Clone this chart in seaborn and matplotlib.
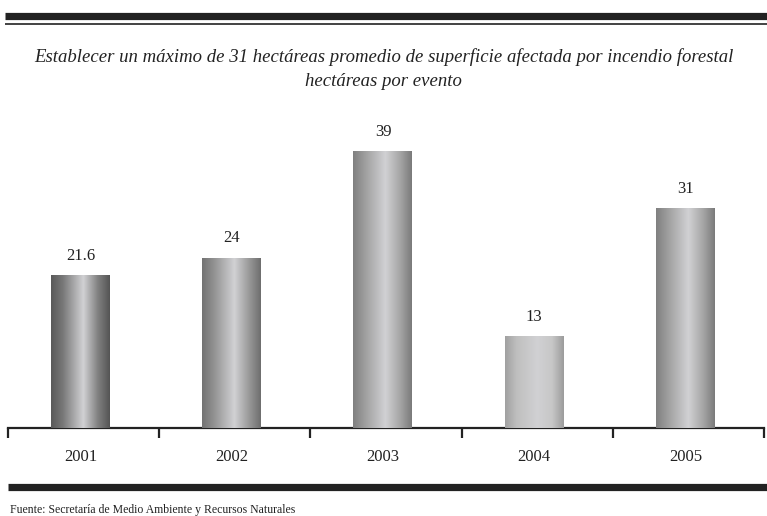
# Deps
import numpy as np
import pandas as pd
import seaborn as sns
import matplotlib
matplotlib.use('Agg')
import matplotlib.pyplot as plt
from matplotlib.colors import LinearSegmentedColormap
from matplotlib.lines import Line2D
from matplotlib.ticker import FixedLocator

# Data
years = ["2001", "2002", "2003", "2004", "2005"]
hectareas = [21.6, 24, 39, 13, 31]
value_labels = ["21.6", "24", "39", "13", "31"]

title = ("Establecer un máximo de 31 hectáreas promedio de superficie afectada por incendio forestal\n"
         "hectáreas por evento")
source = "Fuente: Secretaría de Medio Ambiente y Recursos Naturales"

# style: edge shade of each cylinder (grey level 0-1)
edge_shades = [0.35, 0.45, 0.50, 0.63, 0.50]

df = pd.DataFrame({"year": years, "ha": hectareas})

# Fig
W, H = 767, 516
fig = plt.figure(figsize=(W / 100, H / 100), dpi=100)
sns.set_style("white")
plt.rcParams['font.family'] = ['Liberation Serif', 'DejaVu Serif']

ax = fig.add_axes([8 / W, (H - 428) / H, (764 - 8) / W, (428 - 100) / H])

sns.barplot(data=df, x="year", y="ha", ax=ax, width=0.39, color="#999999",
            edgecolor="none", linewidth=0, saturation=1)

# cylinder shading on each bar
t = np.linspace(0, 1, 256)
for p, e in zip(ax.patches, edge_shades):
    cmap = LinearSegmentedColormap.from_list(
        "cyl", [(0, (e, e, e)), (0.2, (e + 0.12,) * 3), (0.55, (0.82, 0.82, 0.83)),
                (0.8, (e + 0.15,) * 3), (1, (e - 0.02,) * 3)])
    im = ax.imshow(t[np.newaxis, :], extent=[p.get_x(), p.get_x() + p.get_width(), 0, p.get_height()],
                   aspect='auto', cmap=cmap, vmin=0, vmax=1, zorder=3)
    im.set_clip_path(p)

ax.bar_label(ax.containers[0], labels=value_labels, padding=8, fontsize=12, color="#222222")

ax.set_xlim(-0.48, 4.52)
ax.set_ylim(0, 46.2)

# spines / ticks
for s in ['top', 'right', 'left']:
    ax.spines[s].set_visible(False)
ax.spines['bottom'].set_linewidth(1.6)
ax.spines['bottom'].set_color("#222222")
ax.set_yticks([])
ax.set_xlabel("")
ax.set_ylabel("")
ax.set_xticks(range(len(years)))
ax.set_xticklabels(years)
ax.xaxis.set_minor_locator(FixedLocator(np.arange(-0.48, len(years), 1.0)))
ax.tick_params(axis='x', which='major', length=0, pad=15, labelsize=12, labelcolor="#222222")
ax.tick_params(axis='x', which='minor', bottom=True, length=7, width=1.6, color="#222222",
               direction='out')

# title
fig.text(0.5, (H - 69) / H, title, ha='center', va='center', fontsize=13.5,
         style='italic', color="#222222", linespacing=1.55)

# rules
fig.add_artist(Line2D([5 / W, 1], [(H - 15.5) / H] * 2, lw=5.2, color="#222222", solid_capstyle='butt'))
fig.add_artist(Line2D([5 / W, 1], [(H - 23.5) / H] * 2, lw=1.2, color="#222222", solid_capstyle='butt'))
fig.add_artist(Line2D([8 / W, 1], [(H - 486.5) / H] * 2, lw=5.2, color="#222222", solid_capstyle='butt'))

fig.text(10 / W, (H - 510) / H, source, ha='left', va='center', fontsize=8.5, color="#222222")

fig.savefig("out.png", dpi=100)
plt.close("all")
